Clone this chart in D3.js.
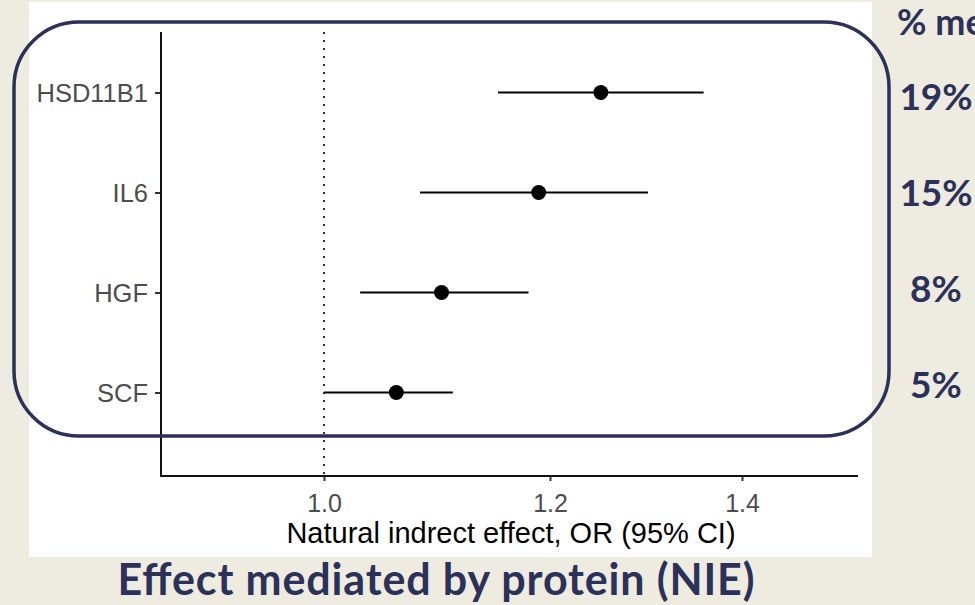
<!DOCTYPE html>
<html><head><meta charset="utf-8">
<script src="https://cdn.jsdelivr.net/npm/d3@7"></script>
<style>html,body{margin:0;padding:0;background:#EEEBE0;overflow:hidden}</style>
</head><body><svg id="c" width="975" height="605"></svg>
<script>
// ---- data ----
const proteins = ["HSD11B1", "IL6", "HGF", "SCF"];
const estimate = [1.253, 1.190, 1.104, 1.064];
const lower    = [1.154, 1.085, 1.032, 1.000];
const upper    = [1.360, 1.302, 1.181, 1.114];
const pctMediated = ["19%", "15%", "8%", "5%"];
const pctHeader = "% mediated";
const xTicks = [1.0, 1.2, 1.4];
const refValue = 1.0;
const xTitle = "Natural indrect effect, OR (95% CI)";
const bottomTitle = "Effect mediated by protein (NIE)";

// ---- layout ----
const W = 975, H = 605;
const navy = "#2B3158";
const svg = d3.select("#c");
svg.append("rect").attr("width", W).attr("height", H).attr("fill", "#EEEBE0");
svg.append("rect").attr("x", 29).attr("y", 2).attr("width", 843).attr("height", 555).attr("fill", "#fff");

const plot = {left: 161, right: 858, top: 32, bottom: 476};

const x = d3.scaleLinear().domain(xTicks).range([324, 550, 742]);
const y = d3.scalePoint().domain(proteins).range([plot.top, plot.bottom]).padding(0.72).align(0.42);

// reference line
svg.append("line")
  .attr("x1", x(refValue)).attr("x2", x(refValue))
  .attr("y1", plot.top).attr("y2", plot.bottom)
  .attr("stroke", "#333").attr("stroke-width", 2).attr("stroke-dasharray", "2,6");

// axes
const font = "'Liberation Sans', Arial, sans-serif";
const xAxis = svg.append("g").attr("transform", `translate(0,${plot.bottom})`)
  .call(d3.axisBottom(x).tickValues(xTicks).tickFormat(d3.format(".1f")).tickSize(5).tickPadding(7));
xAxis.select(".domain").remove();
xAxis.selectAll(".tick line").attr("stroke", "#333").attr("stroke-width", 2);
xAxis.selectAll(".tick text").attr("fill", "#4D4D4D").style("font-family", font).style("font-size", "25px").attr("dy", "0.95em");

const yAxis = svg.append("g").attr("transform", `translate(${plot.left},0)`)
  .call(d3.axisLeft(y).tickSize(6).tickPadding(7));
yAxis.select(".domain").remove();
yAxis.selectAll(".tick line").attr("stroke", "#333").attr("stroke-width", 2);
yAxis.selectAll(".tick text").attr("fill", "#4D4D4D").style("font-family", font).style("font-size", "25.5px").attr("dy", "0.36em");

// axis lines
svg.append("line").attr("x1", plot.left).attr("x2", plot.left).attr("y1", plot.top).attr("y2", plot.bottom + 1)
  .attr("stroke", "#111").attr("stroke-width", 2);
svg.append("line").attr("x1", plot.left - 1).attr("x2", plot.right).attr("y1", plot.bottom).attr("y2", plot.bottom)
  .attr("stroke", "#111").attr("stroke-width", 2);

// error bars and points
const rows = proteins.map((p, i) => ({p, est: estimate[i], lo: lower[i], hi: upper[i]}));
svg.append("g").selectAll("line").data(rows).join("line")
  .attr("x1", d => x(d.lo)).attr("x2", d => x(d.hi))
  .attr("y1", d => y(d.p)).attr("y2", d => y(d.p))
  .attr("stroke", "#000").attr("stroke-width", 2);
svg.append("g").selectAll("circle").data(rows).join("circle")
  .attr("cx", d => x(d.est)).attr("cy", d => y(d.p)).attr("r", 7.5).attr("fill", "#000");

// x title
svg.append("text").attr("x", 511).attr("y", 543)
  .attr("text-anchor", "middle").attr("fill", "#000")
  .style("font-family", font).style("font-size", "29px").text(xTitle);

// rounded box overlay
svg.append("rect").attr("x", 14).attr("y", 22).attr("width", 875).attr("height", 414)
  .attr("rx", 65).attr("ry", 65).attr("fill", "none").attr("stroke", navy).attr("stroke-width", 3.5);

// percent mediated annotations
const bold = "Lato, 'Open Sans', sans-serif";
svg.append("text").attr("x", 897).attr("y", 35).attr("fill", navy)
  .style("font-family", bold).style("font-weight", 700).style("font-size", "36px").text(pctHeader);
svg.append("g").selectAll("text").data(pctMediated).join("text")
  .attr("x", 936).attr("y", (d, i) => 110 + i * 96).attr("text-anchor", "middle").attr("fill", navy)
  .style("font-family", bold).style("font-weight", 700).style("font-size", "37px").text(d => d);

// bottom title
svg.append("text").attr("x", 436).attr("y", 595).attr("text-anchor", "middle").attr("fill", navy)
  .attr("textLength", 637).attr("lengthAdjust", "spacing")
  .style("font-family", bold).style("font-weight", 700).style("font-size", "43px").text(bottomTitle);
</script></body></html>
